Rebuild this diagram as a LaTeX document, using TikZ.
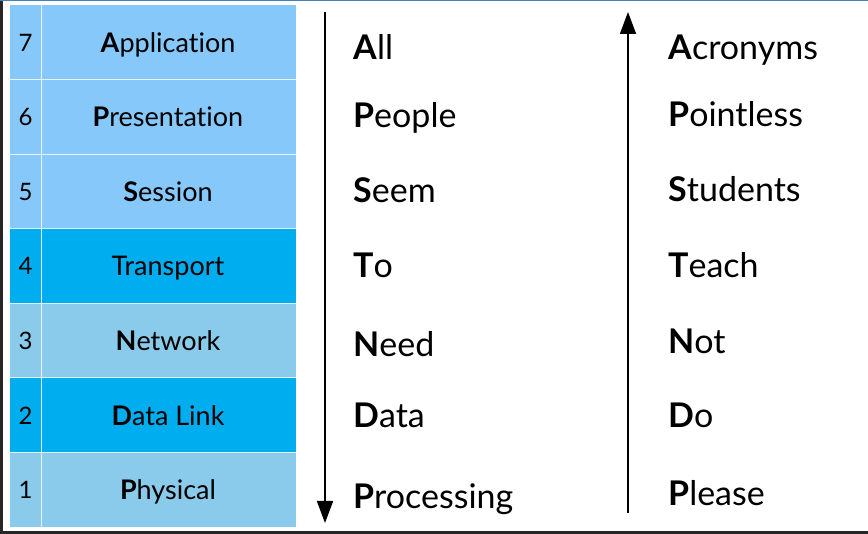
\documentclass[tikz,border=0pt]{standalone}
\usepackage{fontspec}
\setmainfont{Lato}[Ligatures=CommonOff]
\usetikzlibrary{arrows.meta}
\definecolor{lightrow}{RGB}{134,200,250}
\definecolor{brightrow}{RGB}{0,174,240}
\definecolor{greyrow}{RGB}{138,202,234}
\definecolor{topline}{RGB}{70,130,180}
\tikzset{
  cell/.style={draw=white!80!lightrow, line width=0.8pt},
  num/.style={font=\fontsize{24}{24}\selectfont, anchor=base},
  layer/.style={font=\fontsize{27}{27}\selectfont, anchor=base},
  word/.style={font=\fontsize{34}{34}\selectfont, anchor=base west, inner sep=0pt},
  flow/.style={line width=1.6pt, -{Triangle[length=22pt,width=16pt]}},
}
\begin{document}
\begin{tikzpicture}[x=1pt,y=-1pt]
\useasboundingbox (0,0) rectangle (868,534);
\fill[white] (0,0) rectangle (868,534);
% screenshot frame
\fill[black!85] (0,0) rectangle (2.5,534);
\fill[topline] (0,0) rectangle (868,1.5);
\fill[black!85] (0,530.5) rectangle (868,534);
% table rows
\def\rh{74.57}
\foreach \i/\c in {0/lightrow,1/lightrow,2/lightrow,3/brightrow,4/greyrow,5/brightrow,6/greyrow}{
  \fill[\c] (10,{5+\i*\rh}) rectangle (296,{5+(\i+1)*\rh});
}
\foreach \i in {1,...,6}{
  \draw[cell] (10,{5+\i*\rh}) -- (296,{5+\i*\rh});
}
\draw[cell] (41,5) -- (41,527);
% numbers and layer names
\foreach \i/\n/\name/\t in {0/7/r7/{\textbf{A}pplication},1/6/r6/{\textbf{P}resentation},2/5/r5/{\textbf{S}ession},3/4/r4/{Transport},4/3/r3/{\textbf{N}etwork},5/2/r2/{\textbf{D}ata Link},6/1/r1/{\textbf{P}hysical}}{
  \node[num] (n\name) at (25.5,{5+(\i+0.5)*\rh+9}) {\n};
  \node[layer] (l\name) at (168,{5+(\i+0.5)*\rh+10}) {\t};
}
% arrows
\coordinate (dtop) at (325,12);
\coordinate (dbot) at (325,523);
\draw[flow] (dtop) -- (dbot);
\coordinate (ubot) at (628,513);
\coordinate (utop) at (628,12);
\draw[flow] (ubot) -- (utop);
% left mnemonic
\node[word] (wa) at (353,60) {\textbf{A}ll};
\node[word] (wb) at (353,128) {\textbf{P}eople};
\node[word] (wc) at (353,203) {\textbf{S}eem};
\node[word] (wd) at (353,278) {\textbf{T}o};
\node[word] (we) at (353,357) {\textbf{N}eed};
\node[word] (wf) at (353,428) {\textbf{D}ata};
\node[word] (wg) at (353,508) {\textbf{P}rocessing};
% right mnemonic
\node[word] (va) at (668,60) {\textbf{A}cronyms};
\node[word] (vb) at (668,127) {\textbf{P}ointless};
\node[word] (vc) at (668,202) {\textbf{S}tudents};
\node[word] (vd) at (668,278) {\textbf{T}each};
\node[word] (ve) at (668,354) {\textbf{N}ot};
\node[word] (vf) at (668,428) {\textbf{D}o};
\node[word] (vg) at (668,505) {\textbf{P}lease};
\end{tikzpicture}
\end{document}
